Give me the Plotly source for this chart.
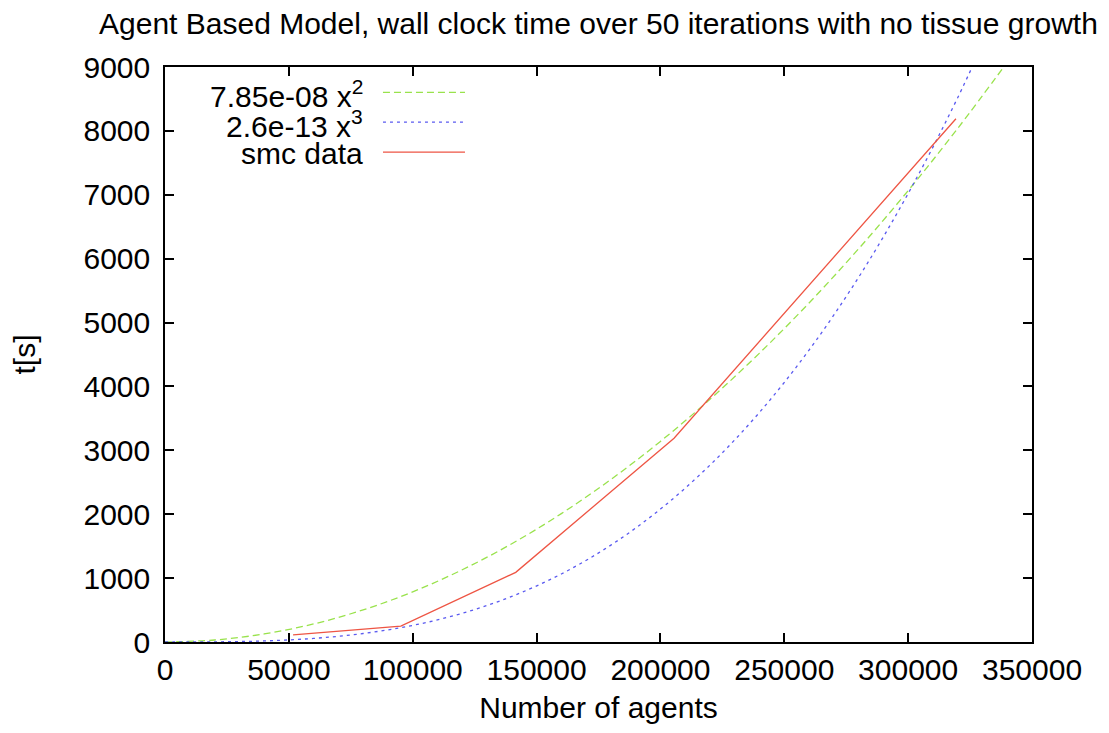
import plotly.graph_objects as go

# smc measured data
smc_agents = [51700, 95200, 141600, 205500, 319300]
smc_time = [110, 250, 1090, 3190, 8190]

# fitted curves, values
fit_x = [0, 20000, 40000, 60000, 80000, 100000, 120000, 140000, 160000, 180000,
         200000, 220000, 240000, 260000, 280000, 300000, 320000, 340000]
quad_y = [0, 31.4, 125.6, 282.6, 502.4, 785, 1130.4, 1538.6, 2009.6, 2543.4,
          3140, 3799.4, 4521.6, 5306.6, 6154.4, 7065, 8038.4, 9074.6]
cubic_y = [0, 2.08, 16.64, 56.16, 133.12, 260, 449.28, 713.44, 1064.96, 1516.32,
           2080, 2768.48, 3594.24, 4569.76, 5707.52, 7020, 8519.68, 10219.04]

legend_labels = ["7.85e-08 x<sup>2</sup>", "2.6e-13 x<sup>3</sup>", "smc data"]
colors = ["#99e24c", "#5a5af0", "#ee5544"]
dashes = ["7px,4px", "3px,4px", "solid"]

FONT = "Liberation Sans, Arial, Helvetica, sans-serif"
FS = 30

fig = go.Figure()
fig.add_trace(go.Scatter(x=fit_x, y=quad_y, mode="lines", line_shape="spline",
                         line=dict(color=colors[0], width=1.3, dash=dashes[0]),
                         showlegend=False))
fig.add_trace(go.Scatter(x=fit_x, y=cubic_y, mode="lines", line_shape="spline",
                         line=dict(color=colors[1], width=1.3, dash=dashes[1]),
                         showlegend=False))
fig.add_trace(go.Scatter(x=smc_agents, y=smc_time, mode="lines",
                         line=dict(color=colors[2], width=1.3, dash=dashes[2]),
                         showlegend=False))

# gnuplot-style key: right-aligned text with line sample to the right
row_y = [0.953, 0.901, 0.849]
for lab, c, d, yy in zip(legend_labels, colors, dashes, row_y):
    fig.add_annotation(xref="paper", yref="paper", x=0.2312, y=yy,
                       xanchor="right", yanchor="middle", text=lab, showarrow=False,
                       font=dict(family=FONT, size=FS, color="black"))
    fig.add_shape(type="line", xref="paper", yref="paper", x0=0.2514, x1=0.346,
                  y0=yy + 0.003, y1=yy + 0.003, line=dict(color=c, width=1.3, dash=d))

axis_common = dict(showline=True, linecolor="black", linewidth=1.5, mirror="ticks",
                   ticks="inside", ticklen=9, tickwidth=1.5, tickcolor="black",
                   showgrid=False, zeroline=False, automargin=False,
                   tickfont=dict(family=FONT, size=FS, color="black"))

fig.update_xaxes(range=[0, 350000], dtick=50000, tickformat="d",
                 title=dict(text="Number of agents", standoff=12,
                            font=dict(family=FONT, size=FS, color="black")),
                 **axis_common)
fig.update_yaxes(range=[0, 9000], dtick=1000, tickformat="d", ticklabelstandoff=7,
                 title=dict(text="t[s]", standoff=42,
                            font=dict(family=FONT, size=FS, color="black")),
                 **axis_common)

fig.update_layout(
    width=1101, height=725,
    margin=dict(l=157, r=77, t=59, b=91),
    plot_bgcolor="white", paper_bgcolor="white",
    title=dict(text="Agent Based Model, wall clock time over 50 iterations with no tissue growth",
               xref="container", yref="container", x=0.5363, y=0.979,
               xanchor="center", yanchor="middle",
               font=dict(family=FONT, size=FS, color="black")),
)

fig.write_html("out.html")
